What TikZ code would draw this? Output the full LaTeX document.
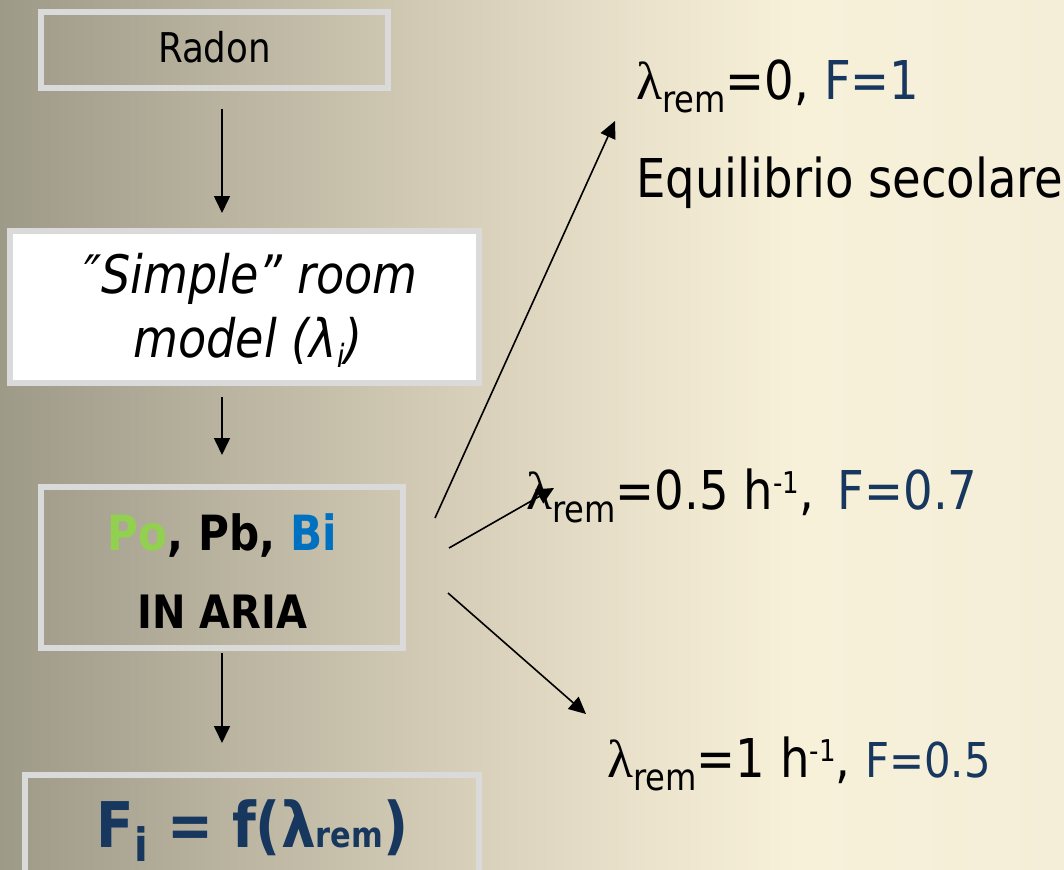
\documentclass[tikz,border=0pt]{standalone}
\usepackage{fontspec}
\setmainfont{DejaVu Sans}[FakeStretch=0.87]
\newfontfamily\symf{Liberation Serif}
\usetikzlibrary{arrows.meta}
\definecolor{bgA}{HTML}{9E9A88}
\definecolor{bgB}{HTML}{BCB6A2}
\definecolor{bgC}{HTML}{D5CDB7}
\definecolor{bgD}{HTML}{EBE3CC}
\definecolor{bgE}{HTML}{F8F1DA}
\definecolor{bgF}{HTML}{F4EDD7}
\definecolor{boxgray}{HTML}{DADADA}
\definecolor{fblue}{HTML}{17375E}
\definecolor{pogreen}{HTML}{92D050}
\definecolor{biblue}{HTML}{0070C0}
\pgfdeclarehorizontalshading{bgh}{100bp}{color(0bp)=(bgA); color(25bp)=(bgA); color(36.75bp)=(bgB); color(46.15bp)=(bgC); color(55.5bp)=(bgD); color(62.5bp)=(bgE); color(75bp)=(bgF); color(100bp)=(bgF)}
\newcommand\lamrem{{\symf λ}\raisebox{-13pt}{\fontsize{37}{37}\selectfont rem}}
\newcommand\hsup{\raisebox{16pt}{\fontsize{30}{30}\selectfont -1}}
\newcommand\fs[1]{\fontsize{#1}{#1}\selectfont}
\tikzset{
  box/.style={draw=boxgray, line width=6pt, inner sep=0pt},
  txt/.style={inner sep=0pt, anchor=base},
  rtxt/.style={inner sep=0pt, anchor=base west, font=\fs{53.5}},
  arr/.style={-{Triangle[length=17pt,width=16pt]}, line width=1.6pt, black},
}
\begin{document}
\begin{tikzpicture}[x=1pt,y=-1pt]
\useasboundingbox (0,0) rectangle (1064,869);
\shade[shading=bgh] (0,0) rectangle (1064,869);

% boxes
\node[box, minimum width=347pt, minimum height=76pt] (radon) at (214.5,50) {};
\node[box, fill=white, minimum width=469pt, minimum height=152pt] (simple) at (244.5,307) {};
\node[box, minimum width=362pt, minimum height=161pt] (po) at (222,567.5) {};
\node[box, minimum width=454pt, minimum height=125pt] (fbox) at (252,837.5) {};

% box texts
\node[txt, font=\fs{41}] (radontxt) at (214.5,63) {Radon};
\node[txt, font=\itshape\fs{53}] (simple1) at (251,293) {″Simple” room};
\node[txt, font=\itshape\fs{53}] (simple2) at (248,357) {model (λ\raisebox{-10pt}{\fs{32}i})};
\node[txt, font=\bfseries\fs{48.5}] (potxt) at (222.5,550) {{\color{pogreen}Po}, Pb, {\color{biblue}Bi}};
\node[txt, font=\bfseries\fs{46}] (ariatxt) at (222.5,628) {IN ARIA};
\node[txt, font=\bfseries\fs{63}, text=fblue] (ftxt) at (252.5,847) {F\raisebox{-14pt}{\fs{46}i} = f(λ{\fs{35}rem})};

% vertical arrows
\coordinate (ax) at (222,0);
\draw[arr, shorten <=18pt, shorten >=15pt] (radon.south -| ax) -- (simple.north -| ax);
\draw[arr, shorten <=11pt, shorten >=29pt] (simple.south -| ax) -- (po.north -| ax);
\draw[arr, shorten <=2pt, shorten >=29pt] (po.south -| ax) -- (fbox.north -| ax);

% right texts
\node[rtxt] (t0) at (636,100) {\lamrem=0, {\color{fblue}F=1}};
\node[rtxt] (eq) at (636,197) {Equilibrio secolare};
\node[rtxt] (t1) at (526,509) {\lamrem=0.5 h\hsup,\kern9pt{} {\color{fblue}F=0.7}};
\node[rtxt] (t2) at (607,777) {\lamrem=1 h\hsup, {\color{fblue}\fs{48}F=0.5}};

% diverging arrows
\coordinate (u0) at (435,518);
\coordinate (u1) at (615,121);
\coordinate (m0) at (449,548);
\coordinate (m1) at (554,488);
\coordinate (l0) at (448,593);
\coordinate (l1) at (586,714);
\draw[arr] (u0) -- (u1);
\draw[arr] (m0) -- (m1);
\draw[arr] (l0) -- (l1);
\end{tikzpicture}
\end{document}
